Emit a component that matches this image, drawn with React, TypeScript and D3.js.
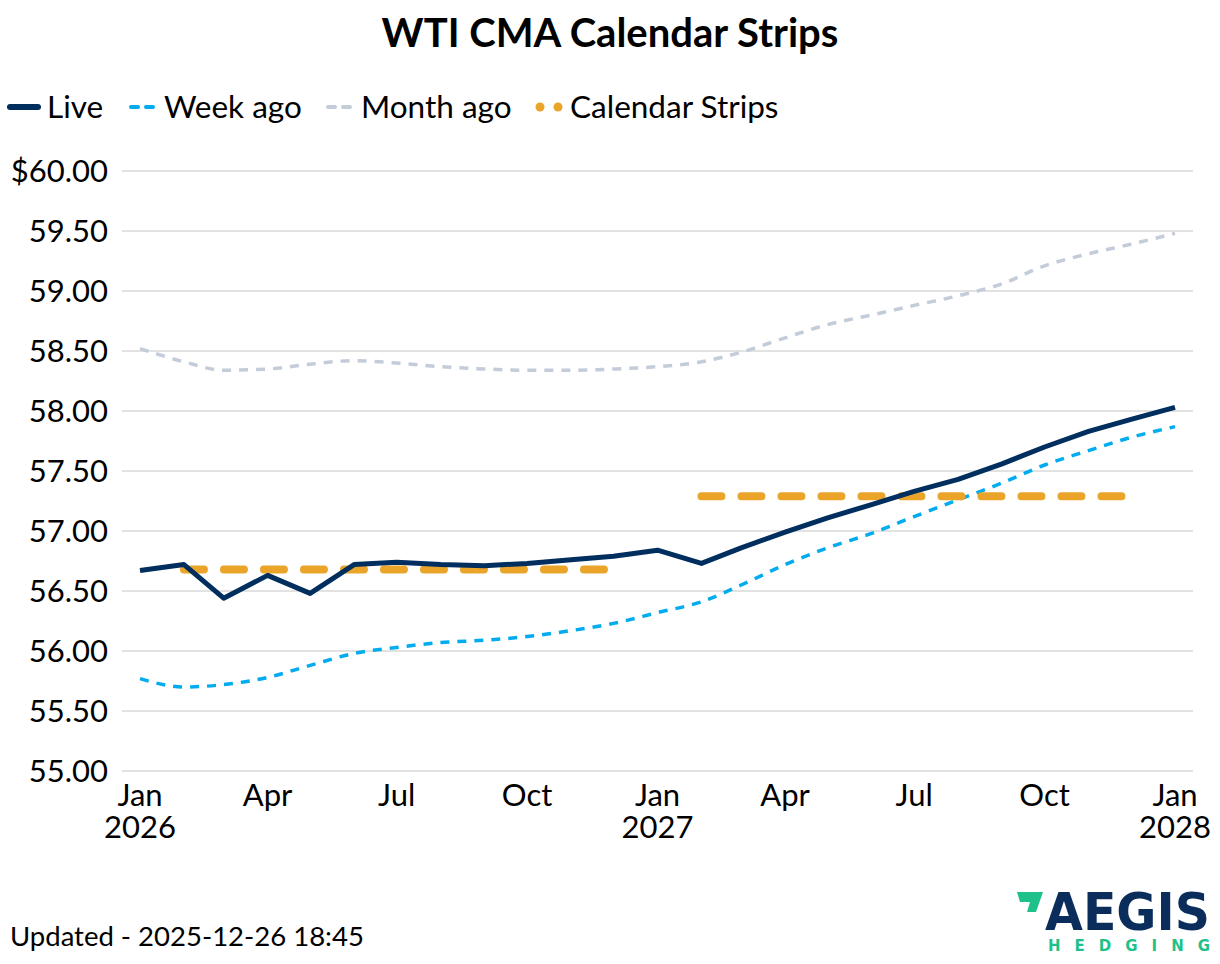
import React from "react";
import * as d3 from "d3";

const months: string[] = [
  "2026-01", "2026-02", "2026-03", "2026-04", "2026-05", "2026-06", "2026-07", "2026-08", "2026-09",
  "2026-10", "2026-11", "2026-12", "2027-01", "2027-02", "2027-03", "2027-04", "2027-05", "2027-06",
  "2027-07", "2027-08", "2027-09", "2027-10", "2027-11", "2027-12", "2028-01",
];

const live: number[] = [
  56.67, 56.72, 56.44, 56.63, 56.48, 56.72, 56.74, 56.72, 56.71, 56.73, 56.76, 56.79, 56.84,
  56.73, 56.86, 56.99, 57.11, 57.22, 57.33, 57.43, 57.56, 57.70, 57.83, 57.93, 58.03,
];

const weekAgo: number[] = [
  55.77, 55.70, 55.72, 55.78, 55.88, 55.98, 56.03, 56.07, 56.09, 56.12, 56.17, 56.23, 56.32,
  56.41, 56.55, 56.72, 56.86, 56.98, 57.12, 57.26, 57.40, 57.55, 57.67, 57.78, 57.87,
];

const monthAgo: number[] = [
  58.52, 58.41, 58.34, 58.35, 58.39, 58.42, 58.40, 58.37, 58.35, 58.34, 58.34, 58.35, 58.37,
  58.41, 58.49, 58.61, 58.72, 58.80, 58.88, 58.96, 59.06, 59.21, 59.31, 59.39, 59.48,
];

const strips = [
  { start: "2026-02", end: "2026-12", value: 56.68 },
  { start: "2027-02", end: "2027-12", value: 57.29 },
];

const yTicks: number[] = [55, 55.5, 56, 56.5, 57, 57.5, 58, 58.5, 59, 59.5, 60];

const legendItems = [
  { label: "Live", color: "#002f5f" },
  { label: "Week ago", color: "#00acef" },
  { label: "Month ago", color: "#c3ccd8" },
  { label: "Calendar Strips", color: "#eaa42a" },
];

const FONT = "Lato, 'Open Sans', sans-serif";
const W = 1220;
const H = 964;

const parse = d3.timeParse("%Y-%m");
const fmtMonth = d3.timeFormat("%b");
const fmtYear = d3.timeFormat("%Y");

export default function App() {
  const x = d3
    .scaleTime()
    .domain([parse("2026-01")!, parse("2028-01")!])
    .range([140, 1175]);
  const y = d3.scaleLinear().domain([55, 60]).range([771, 171]);

  const dates = months.map((m) => parse(m)!);
  const straight = d3
    .line<number>()
    .x((_, i) => x(dates[i]))
    .y((d) => y(d));
  const smooth = d3
    .line<number>()
    .x((_, i) => x(dates[i]))
    .y((d) => y(d))
    .curve(d3.curveMonotoneX);

  const xTicks = x.ticks(d3.timeMonth.every(3)!);

  return (
    <svg width={W} height={H} style={{ display: "block", position: "absolute", left: 0, top: 0 }} fontFamily={FONT}>
      <rect width={W} height={H} fill="#fff" />
      <text x={610} y={47} textAnchor="middle" fontSize={40} fontWeight={700} fill="#000">
        WTI CMA Calendar Strips
      </text>

      {/* legend */}
      <g fontSize={31.5} fill="#000">
        <line x1={10} x2={38} y1={107} y2={107} stroke={legendItems[0].color} strokeWidth={6} strokeLinecap="round" />
        <text x={47} y={118}>{legendItems[0].label}</text>
        <line x1={131} x2={159} y1={107} y2={107} stroke={legendItems[1].color} strokeWidth={4} strokeDasharray="7 8" strokeLinecap="round" />
        <text x={164} y={118}>{legendItems[1].label}</text>
        <line x1={328} x2={356} y1={107} y2={107} stroke={legendItems[2].color} strokeWidth={4} strokeDasharray="7 8" strokeLinecap="round" />
        <text x={361} y={118}>{legendItems[2].label}</text>
        <circle cx={540} cy={107} r={4.5} fill={legendItems[3].color} />
        <circle cx={558} cy={107} r={4.5} fill={legendItems[3].color} />
        <text x={570} y={118}>{legendItems[3].label}</text>
      </g>

      {/* grid + y labels */}
      <g>
        {yTicks.map((t) => (
          <g key={t}>
            <line x1={122} x2={1193} y1={y(t)} y2={y(t)} stroke="#e2e2e2" strokeWidth={2} />
            <text x={108} y={y(t) + 11} textAnchor="end" fontSize={31} fill="#000">
              {t === 60 ? `$${t.toFixed(2)}` : t.toFixed(2)}
            </text>
          </g>
        ))}
      </g>

      {/* x labels */}
      <g fontSize={31} fill="#000" textAnchor="middle">
        {xTicks.map((d) => (
          <g key={+d}>
            <text x={x(d)} y={806}>{fmtMonth(d)}</text>
            {d.getMonth() === 0 && <text x={x(d)} y={838}>{fmtYear(d)}</text>}
          </g>
        ))}
      </g>

      {/* series */}
      <path d={smooth(monthAgo)!} fill="none" stroke="#c3ccd8" strokeWidth={3.5} strokeDasharray="9 8" />
      <path d={smooth(weekAgo)!} fill="none" stroke="#00acef" strokeWidth={3.5} strokeDasharray="9 8" />
      {strips.map((s) => (
        <line
          key={s.start}
          x1={x(parse(s.start)!)}
          x2={x(parse(s.end)!)}
          y1={y(s.value)}
          y2={y(s.value)}
          stroke="#eaa42a"
          strokeWidth={8}
          strokeLinecap="round"
          strokeDasharray="20 20"
        />
      ))}
      <path d={straight(live)!} fill="none" stroke="#002f5f" strokeWidth={5} strokeLinejoin="round" />

      {/* footer */}
      <text x={10} y={946} fontSize={27.5} fill="#000">Updated - 2025-12-26 18:45</text>

      {/* logo */}
      <g>
        <path d="M1017 892 L1043 892 L1036 912 L1027 912 L1030 902 L1020 902 Z" fill="#1fc18a" />
        <text x={1045} y={930} fontSize={52} fontWeight={700} fill="#0b2d5b" fontFamily="'DejaVu Sans', sans-serif" textLength={165} lengthAdjust="spacingAndGlyphs">
          AEGIS
        </text>
        <text x={1048} y={951} fontSize={15} fontWeight={700} fill="#1fc18a" fontFamily="'DejaVu Sans', sans-serif" textLength={162} lengthAdjust="spacing">
          HEDGING
        </text>
      </g>
    </svg>
  );
}
